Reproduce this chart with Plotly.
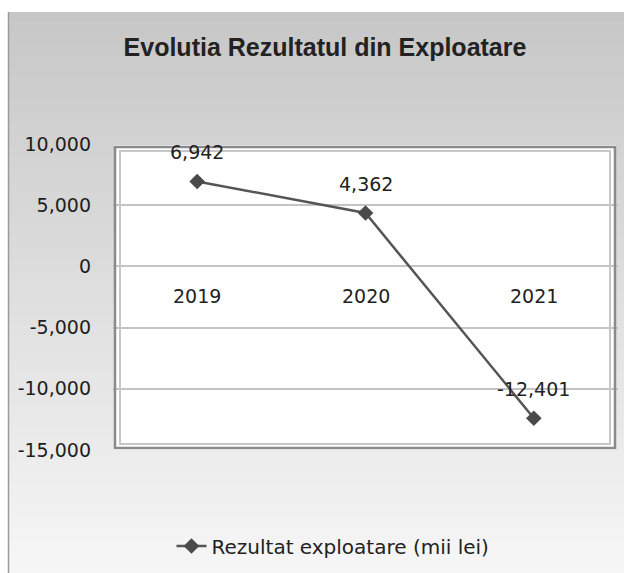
import plotly.graph_objects as go

years = ["2019", "2020", "2021"]
values = [6942, 4362, -12401]
data_labels = ["6,942", "4,362", "-12,401"]
y_ticks = [-15000, -10000, -5000, 0, 5000, 10000]
y_tick_labels = ["-15,000", "-10,000", "-5,000", "0", "5,000", "10,000"]
series_name = "Rezultat exploatare (mii lei)"
title_text = "Evolutia Rezultatul din Exploatare"

FIG_W, FIG_H = 624, 573
L, R, T, B = 113, 6, 144, 123
PW = FIG_W - L - R
PH = FIG_H - T - B


def px2x(px):
    return (px - L) / PW


def py2y(py):
    return (FIG_H - B - py) / PH


shapes = []
# gradient chart background
top, bot = 12, 573
n = 50
for i in range(n):
    a = top + (bot - top) * i / n
    b = top + (bot - top) * (i + 1) / n
    c = int(round(199 + (246 - 199) * (i + 0.5) / n))
    shapes.append(dict(type="rect", xref="paper", yref="paper",
                       x0=px2x(8), x1=px2x(626), y0=py2y(b + 0.5), y1=py2y(a),
                       fillcolor=f"rgb({c},{c},{c})", line=dict(width=0), layer="below"))
# left border of chart area
shapes.append(dict(type="line", xref="paper", yref="paper",
                   x0=px2x(8.5), x1=px2x(8.5), y0=py2y(573), y1=py2y(12),
                   line=dict(color="#9a9a9a", width=1.5), layer="below"))
# white plot area
shapes.append(dict(type="rect", xref="paper", yref="paper",
                   x0=px2x(114), x1=px2x(616), y0=py2y(450), y1=py2y(145),
                   fillcolor="white", line=dict(width=0), layer="below"))
# double frame
shapes.append(dict(type="rect", xref="paper", yref="paper",
                   x0=px2x(115), x1=px2x(615), y0=py2y(448), y1=py2y(147),
                   line=dict(color="#8a8a8a", width=2.5), layer="above"))
shapes.append(dict(type="rect", xref="paper", yref="paper",
                   x0=px2x(120), x1=px2x(610), y0=py2y(444), y1=py2y(151),
                   line=dict(color="#c6c6c6", width=2), layer="above"))

fig = go.Figure()
fig.add_trace(go.Scatter(
    x=years, y=values, mode="lines+markers", name=series_name,
    line=dict(color="#555555", width=2.5),
    marker=dict(symbol="diamond", size=12, color="#4a4a4a"),
    cliponaxis=False,
))

annotations = []
for i, yr in enumerate(years):
    annotations.append(dict(x=i, y=0, xref="x", yref="y", text=yr, showarrow=False,
                            yshift=-30, font=dict(family="DejaVu Sans", size=19, color="#222222")))
for i, (v, lab) in enumerate(zip(values, data_labels)):
    annotations.append(dict(x=i, y=v, xref="x", yref="y", text=lab, showarrow=False,
                            yshift=29, font=dict(family="DejaVu Sans", size=19, color="#222222")))

fig.update_layout(
    width=FIG_W, height=FIG_H,
    margin=dict(l=L, r=R, t=T, b=B),
    paper_bgcolor="white", plot_bgcolor="white",
    shapes=shapes, annotations=annotations,
    title=dict(text=f"<b>{title_text}</b>", x=325 / FIG_W, xanchor="center",
               y=1 - 47 / FIG_H, yanchor="middle", xref="container", yref="container",
               font=dict(family="Liberation Sans", size=25, color="#222222")),
    xaxis=dict(type="category", range=[-0.5, 2.5], showticklabels=False, showgrid=False,
               zeroline=False, showline=False, fixedrange=True),
    yaxis=dict(range=[-15000, 10000], tickvals=y_ticks, ticktext=y_tick_labels,
               showgrid=True, gridcolor="#c4c4c4", gridwidth=1.5, zeroline=False,
               showline=False, ticklabelstandoff=21,
               tickfont=dict(family="DejaVu Sans", size=19, color="#1e1e1e")),
    showlegend=True,
    legend=dict(orientation="h", x=px2x(333), xanchor="center", y=py2y(546), yanchor="middle",
                bgcolor="rgba(0,0,0,0)",
                font=dict(family="DejaVu Sans", size=20, color="#222222")),
)

fig.write_html("out.html", config={"displayModeBar": False},
               post_script="document.body.style.margin='0';")
